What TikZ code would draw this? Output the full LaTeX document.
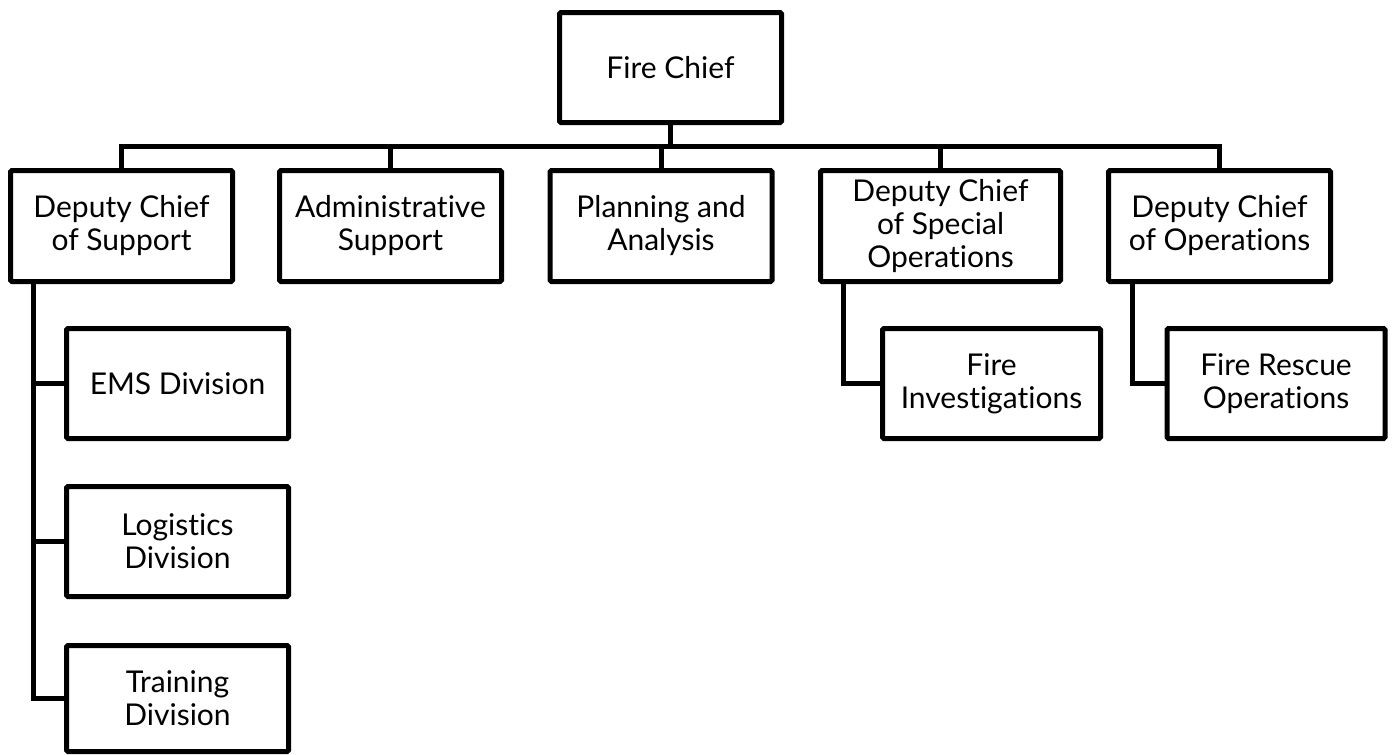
\documentclass[tikz,border=0pt]{standalone}
\usepackage{fontspec}
\setmainfont{Lato}[Ligatures={NoCommon}]
\begin{document}
\begin{tikzpicture}[x=1pt,y=1pt,
  box/.style={draw=black, line width=5pt, rounded corners=1.5pt, fill=white,
    minimum width=222pt, minimum height=110pt, align=center, inner sep=0pt,
    font=\fontsize{30}{33}\selectfont},
  conn/.style={draw=black, line width=5pt, line join=miter}]
\useasboundingbox (0,0) rectangle (1395,-755);
\node[box] (chief) at (670.5,-67.5) {Fire Chief};
\node[box, minimum height=111pt] (b1) at (121.5,-226) {Deputy Chief\\of Support};
\node[box, minimum height=111pt] (b2) at (390.5,-226) {Administrative\\Support};
\node[box, minimum height=111pt] (b3) at (661,-226) {Planning and\\Analysis};
\node[box, minimum height=111pt, minimum width=240pt] (b4) at (940.5,-226) {Deputy Chief\\of Special\\Operations};
\node[box, minimum height=111pt] (b5) at (1219.5,-226) {Deputy Chief\\of Operations};
\node[box] (ems) at (177.5,-383.5) {EMS Division};
\node[box] (log) at (177.5,-541.5) {Logistics\\Division};
\node[box, minimum height=106pt] (trn) at (177.5,-698.5) {Training\\Division};
\node[box, minimum width=218pt] (fi) at (991.5,-383.5) {Fire\\Investigations};
\node[box, minimum width=218pt] (fr) at (1276,-383.5) {Fire Rescue\\Operations};
\coordinate (bus) at (0,-146.5);
\coordinate (d1) at (33,0);
\coordinate (d4) at (843,0);
\coordinate (d5) at (1132,0);
\path[conn] (b1.north) -- (b1.north |- bus) -- (b5.north |- bus) -- (b5.north);
\path[conn] (chief.south) -- (chief.south |- bus);
\path[conn] (b2.north) -- (b2.north |- bus);
\path[conn] (b3.north) -- (b3.north |- bus);
\path[conn] (b4.north) -- (b4.north |- bus);
\path[conn] (b1.south -| d1) |- (trn.west);
\path[conn] (d1 |- ems.west) -- (ems.west);
\path[conn] (d1 |- log.west) -- (log.west);
\path[conn] (b4.south -| d4) |- (fi.west);
\path[conn] (b5.south -| d5) |- (fr.west);
\end{tikzpicture}
\end{document}
